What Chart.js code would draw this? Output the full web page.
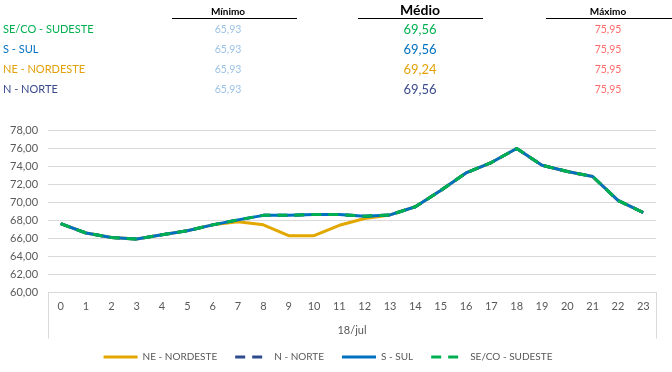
<!DOCTYPE html>
<html>
<head>
<meta charset="utf-8">
<script src="https://cdn.jsdelivr.net/npm/chart.js@4"></script>
<style>
    body { margin: 0; background: #fff; font-family: Lato, "Liberation Sans", sans-serif; }
    #wrap { position: relative; width: 672px; height: 372px; }
    #chart { position: absolute; left: 0; top: 0; }
    .cell { position: absolute; white-space: nowrap; font-size: 11px; line-height: 14px; }
    .val { transform: translateX(-50%); }
    .head { transform: translateX(-50%); font-weight: bold; color: #000; font-size: 10px; }
    .rule { position: absolute; height: 1px; background: #000; top: 18px; }
</style>
</head>
<body>
<div id="wrap">
    <canvas id="chart" width="672" height="372"></canvas>
    <div id="table"></div>
</div>
<script>
// horas do dia
const hours = ["0","1","2","3","4","5","6","7","8","9","10","11","12","13","14","15","16","17","18","19","20","21","22","23"];
const dayLabel = "18/jul";

// valores
const seriesNE = [67.63,66.6,66.1,65.93,66.4,66.85,67.5,67.85,67.5,66.3,66.3,67.45,68.2,68.6,69.5,71.3,73.25,74.4,75.95,74.1,73.4,72.85,70.2,68.85];
const seriesN  = [67.63,66.6,66.1,65.93,66.4,66.85,67.5,68.05,68.55,68.55,68.65,68.65,68.45,68.6,69.5,71.3,73.25,74.4,75.95,74.1,73.4,72.85,70.2,68.85];
const seriesS  = [67.63,66.6,66.1,65.93,66.4,66.85,67.5,68.05,68.55,68.55,68.65,68.65,68.45,68.6,69.5,71.3,73.25,74.4,75.95,74.1,73.4,72.85,70.2,68.85];
const seriesSE = [67.63,66.6,66.1,65.93,66.4,66.85,67.5,68.05,68.55,68.55,68.65,68.65,68.45,68.6,69.5,71.3,73.25,74.4,75.95,74.1,73.4,72.85,70.2,68.85];

// tabela de resumo
const tableRegions = ["SE/CO - SUDESTE", "S - SUL", "NE - NORDESTE", "N - NORTE"];
const tableMin = ["65,93", "65,93", "65,93", "65,93"];
const tableAvg = ["69,56", "69,56", "69,24", "69,56"];
const tableMax = ["75,95", "75,95", "75,95", "75,95"];
const tableColors = ["#00B050", "#0070C0", "#E3A20B", "#3A4A8C"];

// monta a tabela em cima do gráfico
let table = document.getElementById("table");
table.innerHTML += `<div class="head cell" style="left:228px;top:4px">Mínimo</div>`;
table.innerHTML += `<div class="head cell" style="left:420px;top:2px;font-size:14px;line-height:16px">Médio</div>`;
table.innerHTML += `<div class="head cell" style="left:608px;top:4px">Máximo</div>`;
table.innerHTML += `<div class="rule" style="left:172px;width:125px"></div>`;
table.innerHTML += `<div class="rule" style="left:358px;width:125px"></div>`;
table.innerHTML += `<div class="rule" style="left:546px;width:126px"></div>`;
tableRegions.forEach((name, i) => {
    let y = 22 + i * 20;
    table.innerHTML += `<div class="cell" style="left:3px;top:${y}px;color:${tableColors[i]}">${name}</div>`;
    table.innerHTML += `<div class="cell val" style="left:228px;top:${y}px;color:#9DC3E6;font-size:10.5px">${tableMin[i]}</div>`;
    table.innerHTML += `<div class="cell val" style="left:420px;top:${y - 1}px;color:${tableColors[i]};font-size:13px;line-height:16px">${tableAvg[i]}</div>`;
    table.innerHTML += `<div class="cell val" style="left:608px;top:${y}px;color:#FF6B6B;font-size:10.5px">${tableMax[i]}</div>`;
});

// linhas verticais que fecham o eixo de categorias
const axisFrame = {
    id: "axisFrame",
    afterDraw(chart) {
        let ctx = chart.ctx;
        let area = chart.chartArea;
        ctx.save();
        ctx.strokeStyle = "#d9d9d9";
        ctx.lineWidth = 1;
        ctx.beginPath();
        ctx.moveTo(Math.round(area.left) + 0.5, area.bottom);
        ctx.lineTo(Math.round(area.left) + 0.5, area.bottom + 46);
        ctx.moveTo(Math.round(area.right) + 0.5, area.bottom);
        ctx.lineTo(Math.round(area.right) + 0.5, area.bottom + 46);
        ctx.stroke();
        ctx.restore();
    }
};

const font = { family: "Lato, 'Liberation Sans', sans-serif", size: 11 };
const legendFont = { family: "Lato, 'Liberation Sans', sans-serif", size: 10 };
const defaultLabels = Chart.defaults.plugins.legend.labels.generateLabels;

new Chart(document.getElementById("chart"), {
    type: "line",
    data: {
        labels: hours,
        datasets: [
            { label: "NE - NORDESTE", data: seriesNE, borderColor: "#E3A800", backgroundColor: "#E3A800", borderWidth: 3, order: 4 },
            { label: "N - NORTE", data: seriesN, borderColor: "#2F4B8E", backgroundColor: "#2F4B8E", borderWidth: 3, borderDash: [10, 7], order: 3 },
            { label: "S - SUL", data: seriesS, borderColor: "#0070C0", backgroundColor: "#0070C0", borderWidth: 3, order: 2 },
            { label: "SE/CO - SUDESTE", data: seriesSE, borderColor: "#00B050", backgroundColor: "#00B050", borderWidth: 3, borderDash: [10, 7], order: 1 }
        ]
    },
    options: {
        responsive: false,
        animation: false,
        layout: { padding: { top: 130, left: 0, right: 16, bottom: 0 } },
        elements: {
            point: { radius: 0 },
            line: { tension: 0, borderJoinStyle: "round" }
        },
        scales: {
            x: {
                offset: true,
                grid: { display: false, drawTicks: false },
                border: { color: "#d9d9d9" },
                ticks: { color: "#595959", font: font, padding: 7, maxRotation: 0, autoSkip: false },
                title: { display: true, text: dayLabel, color: "#595959", font: font, padding: { top: 4, bottom: -3 } }
            },
            y: {
                min: 60,
                max: 78,
                grid: { color: "#d9d9d9", drawTicks: false },
                border: { display: false },
                ticks: {
                    stepSize: 2,
                    color: "#595959",
                    font: font,
                    padding: 10,
                    callback: (v) => v.toFixed(2).replace(".", ",")
                }
            }
        },
        plugins: {
            tooltip: { enabled: false },
            legend: {
                position: "bottom",
                labels: {
                    usePointStyle: true,
                    pointStyle: "line",
                    pointStyleWidth: 34,
                    color: "#595959",
                    font: legendFont,
                    padding: 18,
                    sort: (a, b) => a.datasetIndex - b.datasetIndex,
                    generateLabels: (chart) => {
                        let items = defaultLabels(chart);
                        items.forEach(item => {
                            let ds = chart.data.datasets[item.datasetIndex];
                            item.lineDash = ds.borderDash || [];
                            item.lineWidth = 3;
                            item.strokeStyle = ds.borderColor;
                        });
                        return items;
                    }
                }
            }
        }
    },
    plugins: [axisFrame]
});
</script>
</body>
</html>
